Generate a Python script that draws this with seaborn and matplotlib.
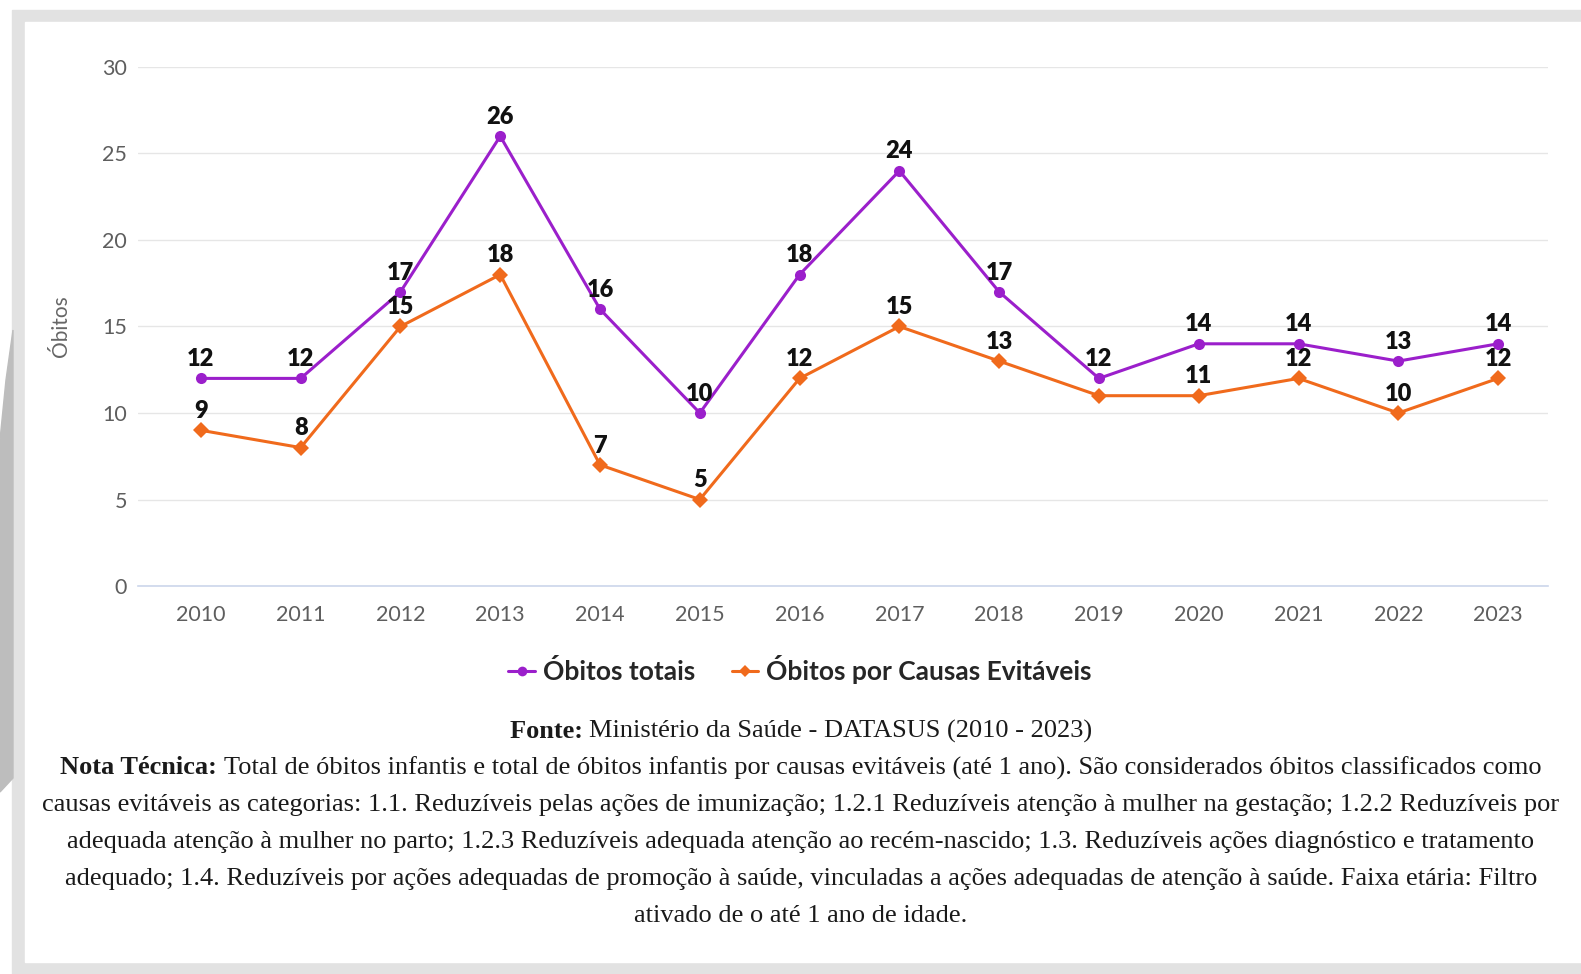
import matplotlib.pyplot as plt
import seaborn as sns
import pandas as pd
from matplotlib.lines import Line2D
from matplotlib.patches import Rectangle, Polygon

# dados
anos = [str(a) for a in range(2010, 2024)]
obitos_totais = [12, 12, 17, 26, 16, 10, 18, 24, 17, 12, 14, 14, 13, 14]
obitos_evitaveis = [9, 8, 15, 18, 7, 5, 12, 15, 13, 11, 11, 12, 10, 12]
series = ["Óbitos totais", "Óbitos por Causas Evitáveis"]
cores = ["#9b1fcb", "#f06a1c"]

fonte = "Ministério da Saúde - DATASUS (2010 - 2023)"
nota = [
    "Total de óbitos infantis e total de óbitos infantis por causas evitáveis (até 1 ano). São considerados óbitos classificados como",
    "causas evitáveis as categorias: 1.1. Reduzíveis pelas ações de imunização; 1.2.1 Reduzíveis atenção à mulher na gestação; 1.2.2 Reduzíveis por",
    "adequada atenção à mulher no parto; 1.2.3 Reduzíveis adequada atenção ao recém-nascido; 1.3. Reduzíveis ações diagnóstico e tratamento",
    "adequado; 1.4. Reduzíveis por ações adequadas de promoção à saúde, vinculadas a ações adequadas de atenção à saúde. Faixa etária: Filtro",
    "ativado de o até 1 ano de idade.",
]

df = pd.DataFrame({
    "Ano": anos * 2,
    "Óbitos": obitos_totais + obitos_evitaveis,
    "Série": [series[0]] * len(anos) + [series[1]] * len(anos),
})

sns.set_theme(style="white")
plt.rcParams['font.family'] = ['Lato', 'DejaVu Sans']

W, H = 1581, 974
fig = plt.figure(figsize=(W / 100, H / 100), dpi=100)

# moldura cinza do print
fig.patches.append(Rectangle((12 / W, 0), 1, 1 - 10 / H, transform=fig.transFigure,
                             color="#e2e2e2", zorder=-10))
fig.patches.append(Rectangle((25 / W, 1 - 962 / H), 1, (962 - 22) / H, transform=fig.transFigure,
                             color="white", zorder=-9))
fig.patches.append(Polygon([(13 / W, 1 - 330 / H), (6 / W, 1 - 380 / H), (0, 1 - 440 / H),
                            (0, 1 - 792 / H), (13 / W, 1 - 778 / H)],
                           transform=fig.transFigure, color="#bdbdbd", zorder=-8))

ax = fig.add_axes([138 / W, 1 - 586 / H, (1548 - 138) / W, (586 - 67) / H])
ax.set_facecolor("none")

sns.lineplot(data=df, x="Ano", y="Óbitos", hue="Série", style="Série",
             palette=cores, markers=["o", "D"], dashes=False, linewidth=2.2,
             markersize=8, markeredgewidth=0, legend=False, ax=ax)

# rótulos dos pontos
for valores in [obitos_totais, obitos_evitaveis]:
    for i, v in enumerate(valores):
        if valores is obitos_evitaveis and anos[i] == "2019":
            continue  # rótulo escondido por sobreposição no original
        ax.annotate(str(v), (i, v), xytext=(0, 6), textcoords="offset points",
                    ha="center", va="bottom", fontsize=17, fontweight="heavy", color="#111111")

ax.set_xlim(-0.63, 13.5)
ax.set_ylim(0, 30)
ax.set_yticks(range(0, 31, 5))
ax.grid(axis="y", color="#e6e6e6", linewidth=1)
ax.set_axisbelow(True)
for s in ["top", "right", "left"]:
    ax.spines[s].set_visible(False)
ax.spines["bottom"].set_color("#ccd6eb")
ax.spines["bottom"].set_linewidth(1.2)

ax.set_xticks(range(len(anos)))
ax.set_xticklabels(anos)
ax.set_xticks([i - 0.5 for i in range(len(anos) + 1)], minor=True)
ax.tick_params(axis="x", which="major", length=0, pad=14, labelsize=15.5, labelcolor="#5e5e5e")
ax.tick_params(axis="x", which="minor", length=9, width=1.2, color="#ccd6eb", direction="out")
ax.tick_params(axis="y", length=0, pad=8, labelsize=15.5, labelcolor="#5e5e5e")

ax.set_xlabel("")
ax.set_ylabel("Óbitos", fontsize=15, color="#666666", labelpad=22)

# legenda
handles = [Line2D([], [], color=cores[0], marker="o", markersize=7, linewidth=2.2, markeredgewidth=0),
           Line2D([], [], color=cores[1], marker="D", markersize=6, linewidth=2.2, markeredgewidth=0)]
fig.legend(handles, series, loc="center", bbox_to_anchor=(800 / W, 1 - 670 / H), ncol=2,
           frameon=False, handlelength=1.0, handletextpad=0.3, columnspacing=1.4,
           prop={"weight": "bold", "size": 19})

# rodapé com trechos em negrito
serif = ["Liberation Serif", "DejaVu Serif"]
tam = 19
renderer = fig.canvas.get_renderer()


def linha(partes, y):
    textos = [fig.text(0, y, t, fontsize=tam, family=serif, weight=w, color="#1a1a1a", va="center")
              for t, w in partes]
    larg = [t.get_window_extent(renderer).width for t in textos]
    x = 801 - sum(larg) / 2
    for t, l in zip(textos, larg):
        t.set_x(x / W)
        x += l


linha([("Fonte: ", "bold"), (fonte, "normal")], 1 - 731 / H)
linha([("Nota Técnica: ", "bold"), (nota[0], "normal")], 1 - 768 / H)
ys = [805, 842, 879, 916]
for t, y in zip(nota[1:], ys):
    linha([(t, "normal")], 1 - y / H)

fig.savefig("out.png", dpi=100)
